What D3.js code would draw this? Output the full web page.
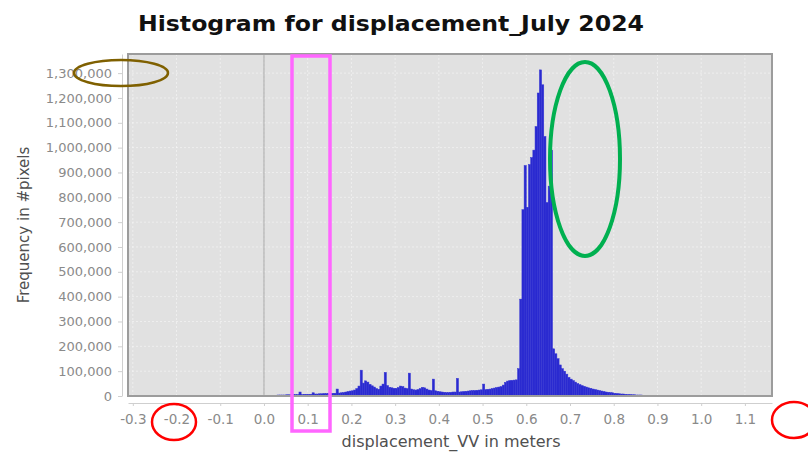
<!DOCTYPE html>
<html>
<head>
<meta charset="utf-8">
<script src="https://cdn.jsdelivr.net/npm/d3@7"></script>
<style>
  body { margin: 0; background: #fff; }
  svg { display: block; }
</style>
</head>
<body>
<div id="chart"></div>
<script>
// Histogram settings
const binStart = 0.0;
const binWidth = 0.005;

// Counts per bin, in thousands of pixels (bins of 0.005 m starting at 0.000)
const counts = [
  2, 2, 3, 3, 3, 3, 4, 4, 4, 4,
  5, 5, 5, 6, 6, 6, 16, 6, 7, 7,
  7, 7, 13, 8, 8, 9, 9, 10, 10, 10,
  10, 11, 11, 28, 12, 13, 14, 16, 18, 20,
  21, 24, 30, 40, 104, 52, 61, 56, 47, 41,
  36, 30, 27, 40, 48, 95, 42, 35, 33, 31,
  31, 34, 40, 38, 32, 30, 92, 28, 25, 24,
  26, 30, 35, 33, 28, 24, 22, 68, 21, 19,
  17, 16, 15, 14, 14, 15, 16, 16, 71, 16,
  17, 18, 19, 20, 21, 22, 22, 23, 24, 25,
  48, 26, 27, 28, 30, 32, 34, 36, 38, 44,
  55, 60, 62, 63, 64, 65, 110, 390, 750, 928,
  760, 932, 960, 990, 1085, 1220, 1313, 1253, 1045, 779,
  845, 990, 190, 170, 150, 125, 110, 100, 88, 75,
  68, 62, 56, 50, 46, 42, 39, 36, 33, 31,
  28, 26, 24, 22, 20, 18, 16, 15, 14, 13,
  11, 10, 9, 8, 8, 7, 6, 6, 5, 5,
  4, 4, 4, 3, 3, 3, 2, 2, 2, 2,
  2, 2, 1, 1, 1, 1, 1, 1, 1, 1,
  1, 1, 1, 0.5, 0.5, 0.5, 0.5, 0.5, 0.5, 0.5
];

const xTicks = [-0.3, -0.2, -0.1, 0.0, 0.1, 0.2, 0.3, 0.4, 0.5, 0.6, 0.7, 0.8, 0.9, 1.0, 1.1];
const yTicks = [0, 100000, 200000, 300000, 400000, 500000, 600000, 700000,
                800000, 900000, 1000000, 1100000, 1200000, 1300000];

const titleText = "Histogram for displacement_July 2024";
const xTitle = "displacement_VV in meters";
const yTitle = "Frequency in #pixels";

// Layout
const width = 808;
const height = 456;
const plot = { left: 128, right: 772, top: 54, bottom: 396 };
const font = "'DejaVu Sans', Verdana, sans-serif";
const tickColor = "#8a8a8a";
const axisColor = "#cfcfcf";
const barColor = "#2a2ad0";

const bins = counts.map((c, i) => ({
  x0: binStart + i * binWidth,
  x1: binStart + (i + 1) * binWidth,
  value: c * 1000
}));

const svg = d3.select("#chart")
  .append("svg")
  .attr("width", width)
  .attr("height", height);

svg.append("rect")
  .attr("width", width)
  .attr("height", height)
  .attr("fill", "#ffffff");

// Scales
const x = d3.scaleLinear()
  .domain([-0.311, 1.162])
  .range([plot.left, plot.right]);

const y = d3.scaleLinear()
  .domain([0, 1377000])
  .range([plot.bottom, plot.top]);

// Plot background
svg.append("rect")
  .attr("x", plot.left)
  .attr("y", plot.top)
  .attr("width", plot.right - plot.left)
  .attr("height", plot.bottom - plot.top)
  .attr("fill", "#e1e1e1");

// Faint dashed grid
const grid = svg.append("g");
grid.selectAll(".hgrid")
  .data(yTicks.slice(1))
  .enter()
  .append("line")
  .attr("x1", plot.left)
  .attr("x2", plot.right)
  .attr("y1", d => y(d))
  .attr("y2", d => y(d))
  .style("stroke", "#ffffff")
  .style("stroke-opacity", 0.45)
  .style("stroke-dasharray", "2,2");

grid.selectAll(".vgrid")
  .data(xTicks)
  .enter()
  .append("line")
  .attr("x1", d => x(d))
  .attr("x2", d => x(d))
  .attr("y1", plot.top)
  .attr("y2", plot.bottom)
  .style("stroke", "#ffffff")
  .style("stroke-opacity", 0.45)
  .style("stroke-dasharray", "2,2");

// Zero marker line
svg.append("line")
  .attr("x1", x(0))
  .attr("x2", x(0))
  .attr("y1", plot.top)
  .attr("y2", plot.bottom)
  .style("stroke", "#a8a8a8")
  .style("stroke-width", 1);

// Bars
svg.append("g")
  .selectAll("rect")
  .data(bins)
  .enter()
  .append("rect")
  .attr("x", d => x(d.x0))
  .attr("y", d => y(d.value))
  .attr("width", d => x(d.x1) - x(d.x0))
  .attr("height", d => y(0) - y(d.value))
  .style("fill", barColor)
  .style("stroke", "#3434d4")
  .style("stroke-width", 0.5);

// Plot frame
svg.append("rect")
  .attr("x", plot.left)
  .attr("y", plot.top)
  .attr("width", plot.right - plot.left)
  .attr("height", plot.bottom - plot.top)
  .style("fill", "none")
  .style("stroke", "#9c9c9c")
  .style("stroke-width", 2);

// Y axis
const yAxis = svg.append("g")
  .attr("transform", `translate(${plot.left - 6},0)`)
  .call(d3.axisLeft(y).tickValues(yTicks).tickFormat(d3.format(","))
    .tickSize(4).tickSizeOuter(0).tickPadding(6));
yAxis.select(".domain").style("stroke", axisColor);
yAxis.selectAll(".tick line").style("stroke", axisColor);
yAxis.selectAll("text")
  .style("font-family", font)
  .style("font-size", "13px")
  .style("fill", tickColor);

// X axis
const xAxis = svg.append("g")
  .attr("transform", `translate(0,${plot.bottom + 7})`)
  .call(d3.axisBottom(x).tickValues(xTicks).tickFormat(d => d.toFixed(1))
    .tickSize(3).tickSizeOuter(0).tickPadding(8));
xAxis.select(".domain").style("stroke", axisColor);
xAxis.selectAll(".tick line").style("stroke", axisColor);
xAxis.selectAll("text")
  .style("font-family", font)
  .style("font-size", "13.5px")
  .style("fill", tickColor);

// Titles
svg.append("text")
  .attr("x", 391)
  .attr("y", 31)
  .attr("text-anchor", "middle")
  .attr("textLength", 506)
  .attr("lengthAdjust", "spacingAndGlyphs")
  .style("font-family", font)
  .style("font-weight", "bold")
  .style("font-size", "22px")
  .style("fill", "#111")
  .text(titleText);

svg.append("text")
  .attr("x", 451)
  .attr("y", 447)
  .attr("text-anchor", "middle")
  .style("font-family", font)
  .style("font-size", "16px")
  .style("fill", "#505050")
  .text(xTitle);

svg.append("text")
  .attr("transform", `translate(29,${(plot.top + plot.bottom) / 2}) rotate(-90)`)
  .attr("text-anchor", "middle")
  .style("font-family", font)
  .style("font-size", "15px")
  .style("fill", "#505050")
  .text(yTitle);

// Hand-drawn style highlight marks
const marks = svg.append("g").style("fill", "none");
marks.append("ellipse")
  .attr("cx", 121).attr("cy", 73).attr("rx", 47).attr("ry", 13)
  .style("stroke", "#7f6000").style("stroke-width", 2.5);
marks.append("rect")
  .attr("x", 292).attr("y", 56).attr("width", 38).attr("height", 375)
  .style("stroke", "#ff66ff").style("stroke-width", 3.5);
marks.append("ellipse")
  .attr("cx", 585).attr("cy", 159).attr("rx", 35).attr("ry", 97)
  .style("stroke", "#00b050").style("stroke-width", 4);
marks.append("ellipse")
  .attr("cx", 174).attr("cy", 422).attr("rx", 22).attr("ry", 18)
  .style("stroke", "#ff0000").style("stroke-width", 2.5);
marks.append("ellipse")
  .attr("cx", 794).attr("cy", 420).attr("rx", 22).attr("ry", 18)
  .style("stroke", "#ff0000").style("stroke-width", 2.5);
</script>
</body>
</html>
